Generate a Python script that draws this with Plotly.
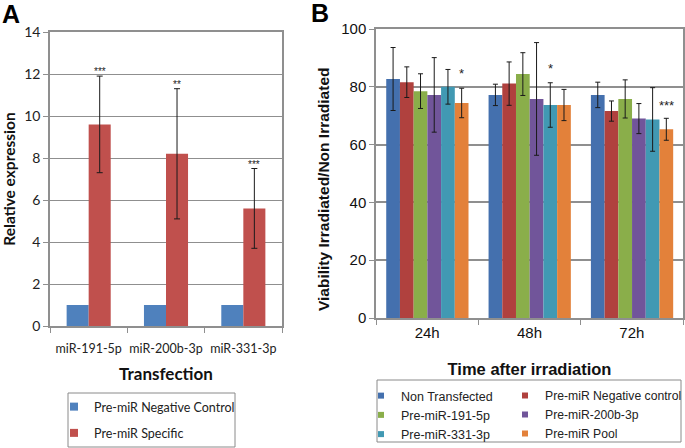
import plotly.graph_objects as go

# ---------------- Panel A data ----------------
a_categories = ["miR-191-5p", "miR-200b-3p", "miR-331-3p"]
a_names = ["Pre-miR Negative Control", "Pre-miR Specific"]
a_negative = [1, 1, 1]
a_specific = [9.6, 8.2, 5.6]
a_specific_err = [2.3, 3.1, 1.9]
a_stars = ["***", "**", "***"]

# ---------------- Panel B data ----------------
b_times = ["24h", "48h", "72h"]
b_names = ["Non Transfected", "Pre-miR Negative control", "Pre-miR-191-5p",
           "Pre-miR-200b-3p", "Pre-miR-331-3p", "Pre-miR Pool"]
b_non_transfected = [82.7, 77.2, 77.2]
b_negative_control = [81.6, 81.1, 71.6]
b_191_5p = [78.5, 84.4, 75.8]
b_200b_3p = [77.2, 75.8, 69.0]
b_331_3p = [80.0, 73.7, 68.7]
b_pool = [74.4, 73.7, 65.3]
b_err_non_transfected = [10.9, 3.7, 4.4]
b_err_negative_control = [5.3, 7.5, 3.5]
b_err_191_5p = [6.0, 7.4, 6.6]
b_err_200b_3p = [12.9, 19.5, 5.2]
b_err_331_3p = [6.0, 7.7, 11.0]
b_err_pool = [5.1, 5.4, 3.8]
# (text, category index, series index, value)
b_stars = [("*", 0, 5, 85.3), ("*", 1, 4, 87.0), ("***", 2, 5, 74.3)]

W, H = 685, 448
def px(x):
    return x / W
def py(y):
    return 1 - y / H

fontA = "Lato, 'Open Sans', sans-serif"
fontB = "'Liberation Sans', Arial, sans-serif"
grid = "#8f8f8f"

fig = go.Figure()

# Panel A bars
a_colors = ["#4F81BD", "#C0504D"]
a_bw = 0.285
a_values = [a_negative, a_specific]
a_errs = [None, a_specific_err]
for i in range(2):
    fig.add_trace(go.Bar(
        x=a_categories, y=a_values[i], name=a_names[i],
        marker=dict(color=a_colors[i], line=dict(width=0)),
        width=a_bw, offset=-a_bw + i * a_bw,
        error_y=(dict(type="data", array=a_errs[i], color="#1a1a1a", thickness=1, width=3)
                 if a_errs[i] is not None else None),
        xaxis="x", yaxis="y", legendgroup="a%d" % i, showlegend=False))
    # small square legend key
    fig.add_trace(go.Scatter(
        x=[None], y=[None], mode="markers", name=a_names[i],
        marker=dict(symbol="square", size=8, color=a_colors[i]),
        xaxis="x", yaxis="y", legend="legend", legendgroup="a%d" % i))

# Panel B bars
b_values = [b_non_transfected, b_negative_control, b_191_5p, b_200b_3p, b_331_3p, b_pool]
b_errs = [b_err_non_transfected, b_err_negative_control, b_err_191_5p,
          b_err_200b_3p, b_err_331_3p, b_err_pool]
b_colors = ["#4470AE", "#B0413E", "#8AAE4A", "#71559A", "#4199B3", "#E3813A"]
b_bw = 0.134
for i, (nm, vals, errs, col) in enumerate(zip(b_names, b_values, b_errs, b_colors)):
    fig.add_trace(go.Bar(
        x=b_times, y=vals, name=nm,
        marker=dict(color=col, line=dict(width=0)),
        width=b_bw, offset=-0.4 + i * b_bw,
        error_y=dict(type="data", array=errs, color="#1a1a1a", thickness=1, width=2.5),
        xaxis="x2", yaxis="y2", legendgroup="b%d" % i, showlegend=False))
    fig.add_trace(go.Scatter(
        x=[None], y=[None], mode="markers", name=nm,
        marker=dict(symbol="square", size=6, color=col),
        xaxis="x2", yaxis="y2", legendgroup="b%d" % i,
        legend="legend2" if i % 2 == 0 else "legend3"))

ax_common = dict(showline=True, linecolor=grid, linewidth=1.5, mirror=True)

fig.update_layout(
    width=W, height=H,
    margin=dict(l=0, r=0, t=0, b=0, autoexpand=False),
    paper_bgcolor="white", plot_bgcolor="white",
    barmode="overlay",
    showlegend=True,
    xaxis=dict(domain=[px(50), px(282)], anchor="y", type="category",
               tickson="boundaries", ticks="outside", ticklen=5, tickcolor=grid, tickangle=0,
               tickfont=dict(family=fontA, size=12.5, color="#222"),
               ticklabelstandoff=10,
               title=dict(text="<b>Transfection</b>", font=dict(family=fontA, size=17, color="#111"), standoff=13),
               showgrid=False, **ax_common),
    yaxis=dict(domain=[py(326), py(32)], anchor="x", range=[0, 14], dtick=2,
               ticks="outside", ticklen=5, tickcolor=grid,
               tickfont=dict(family=fontA, size=14, color="#222"),
               title=dict(text="<b>Relative expression</b>", font=dict(family=fontA, size=15.5, color="#111"), standoff=8),
               showgrid=True, gridcolor=grid, gridwidth=1, zeroline=False, **ax_common),
    xaxis2=dict(domain=[px(376), px(683)], anchor="y2", type="category",
                tickson="boundaries", ticks="outside", ticklen=5, tickcolor=grid, tickangle=0,
                tickfont=dict(family=fontB, size=15, color="#111"),
                title=dict(text="<b>Time after irradiation</b>", font=dict(family=fontB, size=16.5, color="#111"), standoff=24),
                showgrid=False, **ax_common),
    yaxis2=dict(domain=[py(318), py(29)], anchor="x2", range=[0, 100], dtick=20,
                ticks="outside", ticklen=5, tickcolor=grid,
                tickfont=dict(family=fontB, size=15, color="#111"),
                showgrid=True, gridcolor=grid, gridwidth=1.5, zeroline=False, **ax_common),
    legend=dict(x=px(54), y=py(392), xanchor="left", yanchor="top",
                font=dict(family=fontA, size=12.5, color="#222"),
                bgcolor="rgba(0,0,0,0)", borderwidth=0,
                traceorder="grouped", tracegroupgap=7, itemwidth=30),
    legend2=dict(x=px(361), y=py(381), xanchor="left", yanchor="top",
                 font=dict(family=fontB, size=12.5, color="#222"),
                 bgcolor="rgba(0,0,0,0)", borderwidth=0, itemwidth=30,
                 traceorder="normal", tracegroupgap=0),
    legend3=dict(x=px(505), y=py(381), xanchor="left", yanchor="top",
                 font=dict(family=fontB, size=12.2, color="#222"),
                 bgcolor="rgba(0,0,0,0)", borderwidth=0, itemwidth=30,
                 traceorder="normal", tracegroupgap=0),
    shapes=[
        dict(type="rect", xref="paper", yref="paper", x0=px(68), x1=px(235), y0=py(447), y1=py(393),
             line=dict(color="#8a8a8a", width=1)),
        dict(type="rect", xref="paper", yref="paper", x0=px(377), x1=px(681), y0=py(442), y1=py(380),
             line=dict(color="#8a8a8a", width=1)),
    ],
)

ann = [
    dict(text="<b>A</b>", x=px(0), y=py(-2), xref="paper", yref="paper", xanchor="left", yanchor="top",
         showarrow=False, font=dict(family=fontB, size=25, color="#000")),
    dict(text="<b>B</b>", x=px(309), y=py(-3), xref="paper", yref="paper", xanchor="left", yanchor="top",
         showarrow=False, font=dict(family=fontB, size=25, color="#000")),
    dict(text="<b>Viability Irradiated/Non Irradiated</b>", x=px(324), y=py(190), xref="paper", yref="paper",
         xanchor="center", yanchor="middle", textangle=-90, showarrow=False,
         font=dict(family=fontB, size=15.5, color="#111")),
]
for i, s in enumerate(a_stars):
    top = a_specific[i] + a_specific_err[i]
    ann.append(dict(text=s, x=i + a_bw / 2, y=top, xref="x", yref="y", showarrow=False,
                    yanchor="bottom", yshift=-3, font=dict(family=fontB, size=10, color="#222")))
for s, ci, si, yv in b_stars:
    ann.append(dict(text=s, x=ci - 0.4 + si * b_bw + b_bw / 2, y=yv, xref="x2", yref="y2", showarrow=False,
                    yanchor="middle", yshift=-2, font=dict(family=fontB, size=13, color="#222")))
fig.update_layout(annotations=ann)

fig.write_html("out.html", config={"displayModeBar": False},
               post_script="document.body.style.margin='0';document.body.style.overflow='hidden';")
